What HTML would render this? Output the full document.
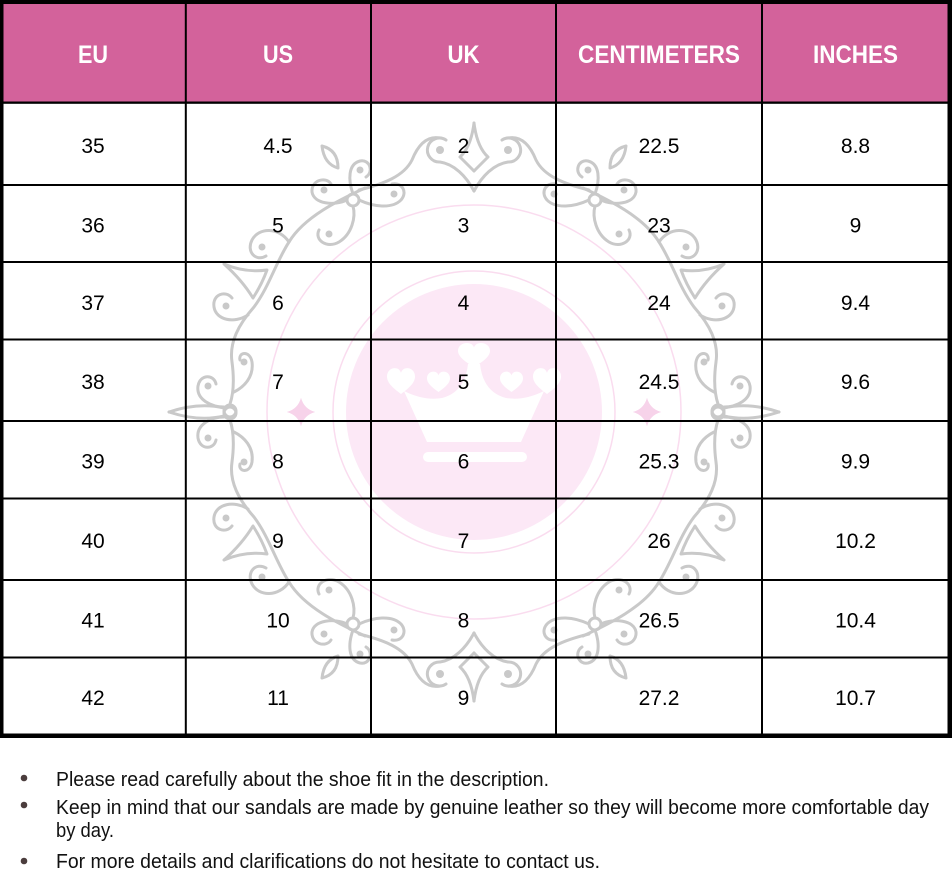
<!DOCTYPE html>
<html>
<head>
<meta charset="utf-8">
<style>
html,body{margin:0;padding:0;background:#fff;}
svg{display:block;}
</style>
</head>
<body>
<svg width="952" height="891" viewBox="0 0 952 891" xmlns="http://www.w3.org/2000/svg">
<defs>
<g id="q">
  <g fill="none" stroke="#c9c9c9" stroke-width="3" stroke-linecap="round" stroke-linejoin="round">
    <path d="M0,-289 Q-3,-265 -14,-255 L0,-241"/>
    <path d="M-28,-272 A12,12 0 1,0 -34,-250 C-20,-248 -8,-236 0,-221"/>
    <path d="M-34,-274 C-50,-277 -58,-262 -62,-252 C-70,-236 -90,-228 -115,-222"/>
    <circle cx="-121" cy="-212" r="6"/>
    <path d="M-152,-266 Q-136,-262 -136,-244 Q-150,-248 -152,-266 Z"/>
    <path d="M-121,-218 C-126,-232 -126,-248 -114,-251 C-104,-253 -100,-240 -108,-235"/>
    <path d="M-127,-212 C-140,-206 -160,-208 -162,-220 C-163,-232 -148,-236 -143,-228"/>
    <path d="M-115,-212 C-100,-205 -82,-203 -73,-212 C-66,-220 -72,-230 -82,-228"/>
    <path d="M-121,-206 C-118,-195 -122,-178 -135,-170 C-147,-163 -160,-172 -155,-182"/>
    <path d="M-109,-224 C-135,-212 -170,-195 -185,-170 C-198,-150 -205,-125 -220,-105 C-235,-88 -245,-70 -242,-50 C-240,-35 -240,-20 -244,-8"/>
    <path d="M-185,-170 C-195,-185 -215,-185 -222,-172 C-228,-160 -218,-150 -208,-156"/>
    <path d="M-250,-148 Q-229,-139 -207,-142 Q-212,-128 -221,-114 Q-232,-132 -250,-148 Z"/>
    <path d="M-226,-97 C-240,-88 -258,-92 -260,-105 C-262,-118 -248,-122 -242,-114"/>
    <path d="M-250,-5 C-262,-5 -278,-12 -276,-26 C-274,-38 -260,-38 -258,-28"/>
    <path d="M-240,-20 C-230,-25 -220,-35 -222,-50 C-224,-62 -236,-60 -234,-52"/>
    <circle cx="-244" cy="-1" r="6"/>
    <path d="M-250,-4 Q-275,-10 -305,0"/>
  </g>
  <g fill="#c9c9c9">
    <circle cx="-34" cy="-262" r="4"/>
    <circle cx="-114" cy="-242" r="3.5"/>
    <circle cx="-150" cy="-222" r="3.5"/>
    <circle cx="-80" cy="-218" r="3.5"/>
    <circle cx="-145" cy="-178" r="3.5"/>
    <circle cx="-212" cy="-165" r="3.5"/>
    <circle cx="-248" cy="-106" r="3.5"/>
    <circle cx="-266" cy="-26" r="3.5"/>
    <circle cx="-230" cy="-50" r="3.5"/>
  </g>
  <path d="M-173,-14 Q-170,-3 -159,0 Q-170,3 -173,14 Q-176,3 -187,0 Q-176,-3 -173,-14 Z" fill="#f7d3ea"/>
</g>
</defs>

<rect width="952" height="891" fill="#fff"/>
<rect x="3.5" y="4" width="944" height="98" fill="#d3629b"/>

<circle cx="474" cy="412" r="207" fill="none" stroke="#fadcef" stroke-width="1.5"/>
<circle cx="474" cy="412" r="141" fill="none" stroke="#fadcef" stroke-width="1.5"/>
<circle cx="474" cy="412" r="128" fill="#fce8f6"/>
<g fill="#ffffff">
  <path d="M427,442 L404,391 Q424,401 442,398 Q465,392 468,364 L480,364 Q483,392 506,398 Q524,401 544,391 L521,442 Z"/>
  <path transform="translate(474,354) scale(16,13)" d="M0,1 C-0.6,0.55 -1,0.2 -1,-0.25 C-1,-0.65 -0.7,-0.85 -0.45,-0.85 C-0.2,-0.85 -0.05,-0.7 0,-0.5 C0.05,-0.7 0.2,-0.85 0.45,-0.85 C0.7,-0.85 1,-0.65 1,-0.25 C1,0.2 0.6,0.55 0,1 Z"/>
  <path transform="translate(401,380) scale(14,14)" d="M0,1 C-0.6,0.55 -1,0.2 -1,-0.25 C-1,-0.65 -0.7,-0.85 -0.45,-0.85 C-0.2,-0.85 -0.05,-0.7 0,-0.5 C0.05,-0.7 0.2,-0.85 0.45,-0.85 C0.7,-0.85 1,-0.65 1,-0.25 C1,0.2 0.6,0.55 0,1 Z"/>
  <path transform="translate(547,380) scale(14,14)" d="M0,1 C-0.6,0.55 -1,0.2 -1,-0.25 C-1,-0.65 -0.7,-0.85 -0.45,-0.85 C-0.2,-0.85 -0.05,-0.7 0,-0.5 C0.05,-0.7 0.2,-0.85 0.45,-0.85 C0.7,-0.85 1,-0.65 1,-0.25 C1,0.2 0.6,0.55 0,1 Z"/>
  <path transform="translate(438.5,381) scale(11.5,11)" d="M0,1 C-0.6,0.55 -1,0.2 -1,-0.25 C-1,-0.65 -0.7,-0.85 -0.45,-0.85 C-0.2,-0.85 -0.05,-0.7 0,-0.5 C0.05,-0.7 0.2,-0.85 0.45,-0.85 C0.7,-0.85 1,-0.65 1,-0.25 C1,0.2 0.6,0.55 0,1 Z"/>
  <path transform="translate(511.5,381) scale(11.5,11)" d="M0,1 C-0.6,0.55 -1,0.2 -1,-0.25 C-1,-0.65 -0.7,-0.85 -0.45,-0.85 C-0.2,-0.85 -0.05,-0.7 0,-0.5 C0.05,-0.7 0.2,-0.85 0.45,-0.85 C0.7,-0.85 1,-0.65 1,-0.25 C1,0.2 0.6,0.55 0,1 Z"/>
  <rect x="423" y="452" width="104" height="10" rx="5"/>
</g>
<g transform="translate(474,412)">
  <use href="#q"/>
  <use href="#q" transform="scale(-1,1)"/>
  <use href="#q" transform="scale(1,-1)"/>
  <use href="#q" transform="scale(-1,-1)"/>
</g>

<g fill="#000">
  <rect x="3" y="101.5" width="945" height="2.3"/>
  <rect x="3" y="184" width="945" height="2"/>
  <rect x="3" y="261" width="945" height="2"/>
  <rect x="3" y="338.5" width="945" height="2"/>
  <rect x="3" y="420" width="945" height="2"/>
  <rect x="3" y="497.5" width="945" height="2"/>
  <rect x="3" y="579" width="945" height="2"/>
  <rect x="3" y="656.5" width="945" height="2"/>
  <rect x="184.8" y="3" width="2" height="732"/>
  <rect x="370" y="3" width="2" height="732"/>
  <rect x="555" y="3" width="2" height="732"/>
  <rect x="761" y="3" width="2" height="732"/>
  <rect x="0" y="0" width="952" height="4"/>
  <rect x="0" y="0" width="3.5" height="738"/>
  <rect x="947.5" y="0" width="4.5" height="738"/>
  <rect x="0" y="733.5" width="952" height="4.5"/>
</g>

<g font-family="'Liberation Sans', Arial, sans-serif" font-weight="bold" font-size="25" fill="#ffffff" text-anchor="middle">
  <text x="93" y="63" textLength="30" lengthAdjust="spacingAndGlyphs">EU</text>
  <text x="278" y="63" textLength="30" lengthAdjust="spacingAndGlyphs">US</text>
  <text x="463.5" y="63" textLength="32" lengthAdjust="spacingAndGlyphs">UK</text>
  <text x="659" y="63" textLength="162" lengthAdjust="spacingAndGlyphs">CENTIMETERS</text>
  <text x="855.5" y="63" textLength="85" lengthAdjust="spacingAndGlyphs">INCHES</text>
</g>

<g font-family="'Liberation Sans', Arial, sans-serif" font-size="21" fill="#000" text-anchor="middle">
  <text x="93" y="153">35</text><text x="278" y="153">4.5</text><text x="463.5" y="153">2</text><text x="659" y="153">22.5</text><text x="855.5" y="153">8.8</text>
  <text x="93" y="232.5">36</text><text x="278" y="232.5">5</text><text x="463.5" y="232.5">3</text><text x="659" y="232.5">23</text><text x="855.5" y="232.5">9</text>
  <text x="93" y="310">37</text><text x="278" y="310">6</text><text x="463.5" y="310">4</text><text x="659" y="310">24</text><text x="855.5" y="310">9.4</text>
  <text x="93" y="389">38</text><text x="278" y="389">7</text><text x="463.5" y="389">5</text><text x="659" y="389">24.5</text><text x="855.5" y="389">9.6</text>
  <text x="93" y="468.5">39</text><text x="278" y="468.5">8</text><text x="463.5" y="468.5">6</text><text x="659" y="468.5">25.3</text><text x="855.5" y="468.5">9.9</text>
  <text x="93" y="548">40</text><text x="278" y="548">9</text><text x="463.5" y="548">7</text><text x="659" y="548">26</text><text x="855.5" y="548">10.2</text>
  <text x="93" y="627.5">41</text><text x="278" y="627.5">10</text><text x="463.5" y="627.5">8</text><text x="659" y="627.5">26.5</text><text x="855.5" y="627.5">10.4</text>
  <text x="93" y="705">42</text><text x="278" y="705">11</text><text x="463.5" y="705">9</text><text x="659" y="705">27.2</text><text x="855.5" y="705">10.7</text>
</g>

<g fill="#4b3d3d">
  <circle cx="24" cy="778" r="3.3"/>
  <circle cx="24" cy="805" r="3.3"/>
  <circle cx="24" cy="861" r="3.3"/>
</g>
<g font-family="'Liberation Sans', Arial, sans-serif" font-size="20" fill="#111">
  <text x="56" y="786" textLength="493" lengthAdjust="spacingAndGlyphs">Please read carefully about the shoe fit in the description.</text>
  <text x="56" y="814" textLength="873" lengthAdjust="spacingAndGlyphs">Keep in mind that our sandals are made by genuine leather so they will become more comfortable day</text>
  <text x="56" y="837" textLength="58" lengthAdjust="spacingAndGlyphs">by day.</text>
  <text x="56" y="868" textLength="544" lengthAdjust="spacingAndGlyphs">For more details and clarifications do not hesitate to contact us.</text>
</g>
</svg>
</body>
</html>
